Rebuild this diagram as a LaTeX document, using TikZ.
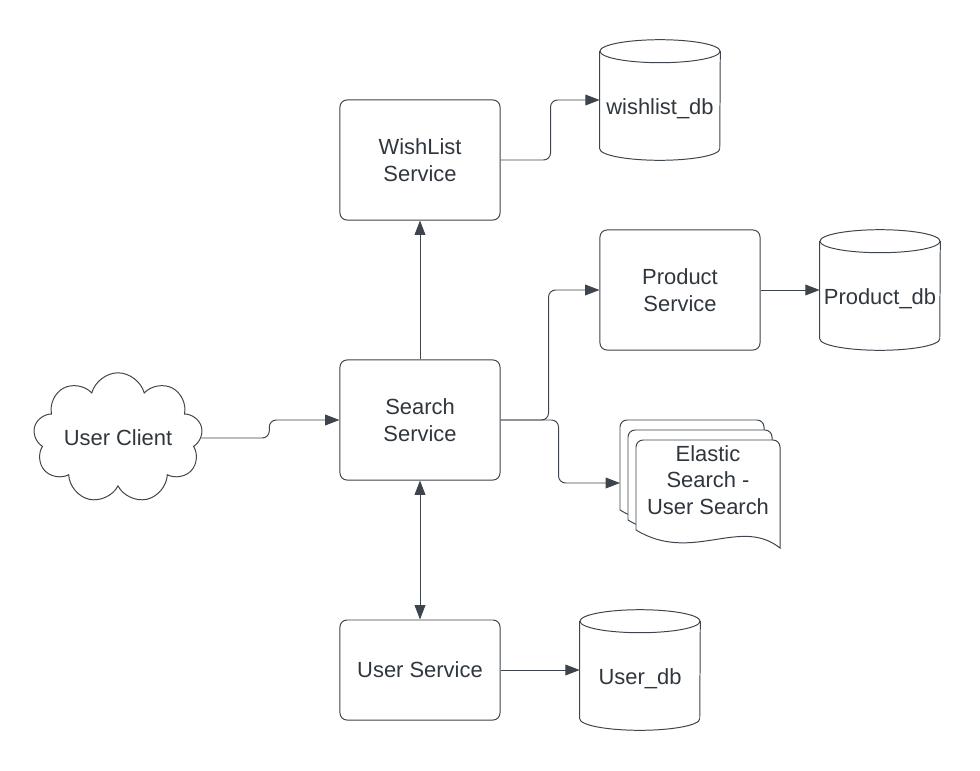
\documentclass[tikz,border=0pt]{standalone}
\usepackage{fontspec}
\setmainfont{Liberation Sans}
\usepackage{xcolor}
\usepackage{tikz}
\usetikzlibrary{arrows.meta,positioning,calc,shapes.symbols}

\definecolor{inkline}{HTML}{3E444B}
\definecolor{inktext}{HTML}{30363D}

% database cylinder round a node
\newcommand{\dbcyl}[1]{%
  \draw[dbline] ($(#1.north west)+(0,-11.5)$) -- ($(#1.south west)+(0,11.5)$)
    arc[start angle=180, end angle=360, x radius=1.5cm, y radius=0.2875cm]
    -- ($(#1.north east)+(0,-11.5)$);
  \draw[dbline] ($(#1.north)+(0,-11.5)$) ellipse[x radius=1.5cm, y radius=0.2875cm];
}

\begin{document}
\begin{tikzpicture}[x=0.025cm, y=0.025cm,
    font=\fontsize{15.6}{19}\selectfont, text=inktext,
    svc/.style={draw=inkline, line width=0.7pt, rounded corners=5pt,
      minimum width=4cm, minimum height=3cm, align=center, inner sep=0pt},
    db/.style={minimum width=3cm, minimum height=3cm, inner sep=0pt},
    dbline/.style={draw=inkline, line width=0.7pt},
    dbtext/.style={yshift=-0.22cm},
    conn/.style={draw=inkline, line width=0.7pt, rounded corners=5pt,
      -{Triangle[length=3.6mm, width=2.7mm]}},
  ]
  \useasboundingbox (0,0) rectangle (980,-770);

  % services
  \node[svc] (wish) at (420,-160) {WishList\\Service};
  \node[svc] (search) at (420,-420) {Search\\Service};
  \node[svc] (product) at (680,-290) {Product\\Service};
  \node[svc, minimum height=2.5cm] (user) at (420,-670) {User Service};
  \node[cloud, cloud puffs=9, aspect=1.6, draw=inkline, line width=0.7pt,
        minimum width=4cm, minimum height=2.65cm, inner sep=0pt] (client) at (118,-438) {User Client};

  % databases
  \node[db, label={[dbtext]center:wishlist\_db}] (wishdb) at (660,-100) {};
  \node[db, label={[dbtext]center:Product\_db}] (proddb) at (880,-290) {};
  \node[db, label={[dbtext]center:User\_db}] (userdb) at (640,-670) {};
  \dbcyl{wishdb}
  \dbcyl{proddb}
  \dbcyl{userdb}

  % elastic search document stack
  \foreach \dx/\dy in {0/0,8/10,16/20}{
    \begin{scope}[shift={(620+\dx,-420-\dy)}]
      \filldraw[draw=inkline, fill=white, line width=0.7pt]
        (0,-90) {[rounded corners=5pt] -- (0,0) -- (144,0)} -- (144,-108)
        .. controls (104,-76) and (56,-124) .. (0,-90) -- cycle;
    \end{scope}
  }
  \node[align=center] (elastic) at (708,-480) {Elastic\\Search -\\User Search};
  \coordinate (esin) at (620,-483);

  % connectors
  \draw[conn] (client.east) -- ++(68,0) |- (search.west);
  \draw[conn] (search.east) -- ++(48,0) |- (product.west);
  \draw[conn] (search.east) -- ++(58,0) |- (esin);
  \draw[conn] (search.north) -- (wish.south);
  \draw[conn] (wish.east) -- ++(50,0) |- (wishdb.west |- 0,-100);
  \draw[conn] (product.east) -- (proddb.west);
  \draw[conn, {Triangle[length=3.6mm, width=2.7mm]}-{Triangle[length=3.6mm, width=2.7mm]}]
    (search.south) -- (user.north);
  \draw[conn] (user.east) -- (userdb.west);
\end{tikzpicture}
\end{document}
